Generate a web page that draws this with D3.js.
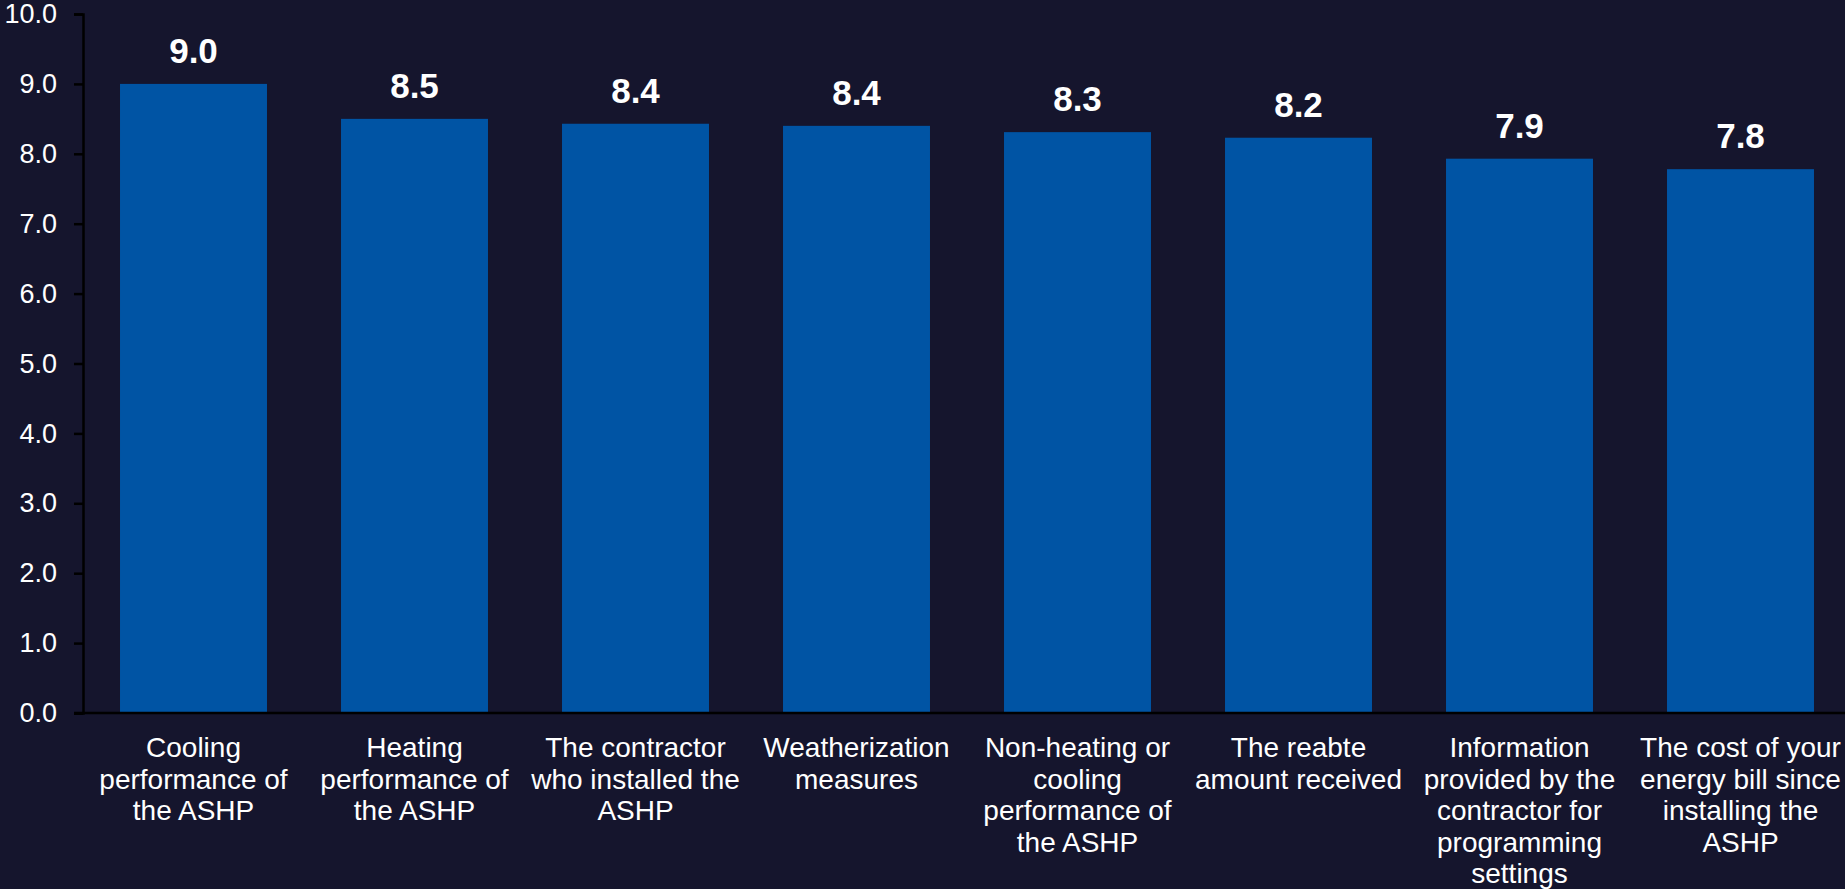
<!DOCTYPE html>
<html><head><meta charset="utf-8">
<script src="https://cdn.jsdelivr.net/npm/d3@7"></script>
<style>html,body{margin:0;padding:0;background:#15152d;overflow:hidden}</style>
</head><body><svg id="c" width="1845" height="889"></svg>
<script>
const categories = [
  ["Cooling","performance of","the ASHP"],
  ["Heating","performance of","the ASHP"],
  ["The contractor","who installed the","ASHP"],
  ["Weatherization","measures"],
  ["Non-heating or","cooling","performance of","the ASHP"],
  ["The reabte","amount received"],
  ["Information","provided by the","contractor for","programming","settings"],
  ["The cost of your","energy bill since","installing the","ASHP"]
];
const values = [9.0, 8.5, 8.43, 8.4, 8.31, 8.23, 7.93, 7.78];
const yTicks = [0,1,2,3,4,5,6,7,8,9,10];

const svg = d3.select("#c");
svg.append("rect").attr("width",1845).attr("height",889).attr("fill","#15152d");
const x = d3.scaleBand().domain(d3.range(values.length)).range([83,1851]).paddingInner(0.335).paddingOuter(0.1675);
const y = d3.scaleLinear().domain([0,10]).range([713,14]);
const font = "'Liberation Sans', Arial, sans-serif";

svg.selectAll("rect.bar").data(values).join("rect").attr("class","bar")
  .attr("x",(d,i)=>x(i)).attr("width",x.bandwidth())
  .attr("y",d=>y(d)).attr("height",d=>y(0)-y(d)).attr("fill","#0054a4");

svg.selectAll("text.val").data(values).join("text").attr("class","val")
  .attr("x",(d,i)=>x(i)+x.bandwidth()/2).attr("y",d=>y(d)-21)
  .attr("text-anchor","middle").attr("font-family",font).attr("font-weight","bold")
  .attr("font-size",35).attr("fill","#ffffff").text(d=>d.toFixed(1));

const ya = svg.append("g").attr("transform","translate(83,0)")
  .call(d3.axisLeft(y).tickValues(yTicks).tickFormat(d3.format(".1f")).tickSize(9).tickPadding(17));
ya.select(".domain").attr("stroke","#000").attr("stroke-width",2.5);
ya.selectAll(".tick line").attr("stroke","#000").attr("stroke-width",2.5);
ya.selectAll(".tick text").attr("fill","#fff").attr("font-family",font).attr("font-size",27);

svg.append("line").attr("x1",74).attr("x2",1845).attr("y1",y(0)).attr("y2",y(0))
  .attr("stroke","#000").attr("stroke-width",2.5);

const cl = svg.selectAll("text.cat").data(categories).join("text").attr("class","cat")
  .attr("text-anchor","middle").attr("font-family",font).attr("font-size",28).attr("fill","#fff");
cl.each(function(lines,i){
  const t = d3.select(this);
  lines.forEach((ln,j)=>{
    t.append("tspan").attr("x",x(i)+x.bandwidth()/2).attr("y",757+j*31.5).text(ln);
  });
});
</script></body></html>
